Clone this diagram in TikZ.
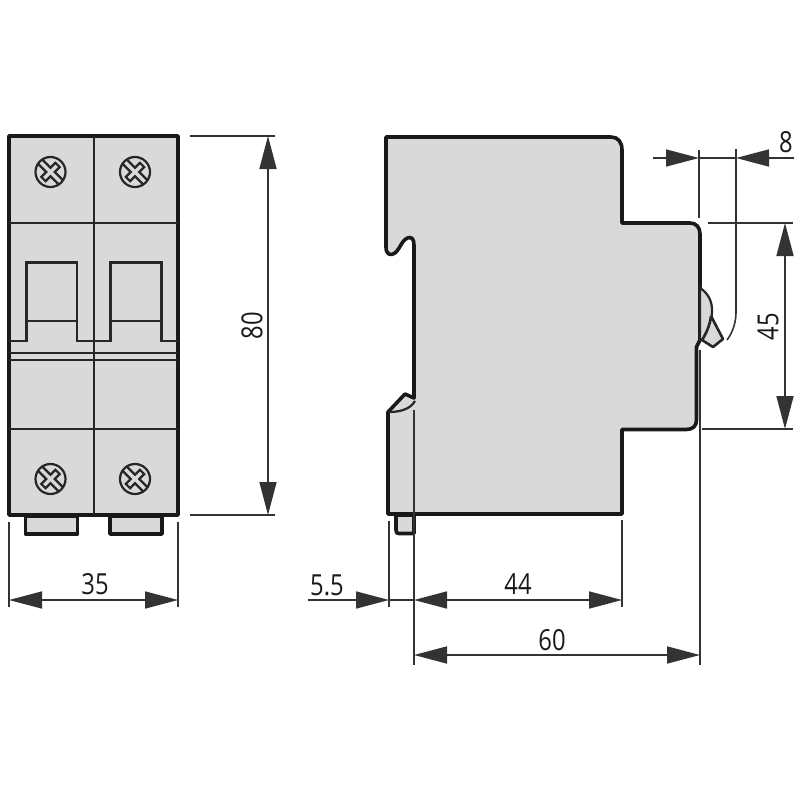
\documentclass[tikz,border=0pt]{standalone}
\usepackage{fontspec}
\setmainfont[FakeStretch=0.82]{Open Sans}
\usetikzlibrary{arrows.meta}

\definecolor{casegray}{HTML}{D9D9D9}
\tikzset{
  outline/.style={draw=black!90,line width=3.6pt,line join=round},
  inner/.style={draw=black!85,line width=2.2pt},
  thin/.style={draw=black!80,line width=1.6pt},
  dim/.style={thin,{Triangle[length=33pt,width=17pt]}-{Triangle[length=33pt,width=17pt]}},
  tipin/.style={thin,-{Triangle[length=33pt,width=17pt]}},
  measure/.style={font=\fontsize{29}{29}\selectfont,color=black!90,inner sep=0pt},
}

\begin{document}
\begin{tikzpicture}[x=1pt,y=-1pt]
  \useasboundingbox (0,0) rectangle (800,800);

  % front view
  \draw[outline,fill=casegray] (25.5,516) -- (25.5,534) -- (77.5,534) -- (77.5,516) -- cycle;
  \draw[outline,fill=casegray] (110,516) -- (110,534) -- (162,534) -- (162,516) -- cycle;
  \draw[outline,fill=casegray] (9,136) rectangle (178,515);
  \draw[inner] (94,136) -- (94,515);
  \draw[inner] (9,223) -- (178,223);
  \draw[inner] (9,353) -- (178,353);
  \draw[inner] (9,360) -- (178,360);
  \draw[inner] (9,429) -- (178,429);
  \draw[inner] (9,341) -- (26.5,341) -- (26.5,262.5) -- (77,262.5) -- (77,341)
    -- (110.5,341) -- (110.5,262.5) -- (161.5,262.5) -- (161.5,341) -- (178,341);
  \draw[inner] (26.5,321) -- (77,321);
  \draw[inner] (110.5,321) -- (161.5,321);

  \foreach \sx in {50.5,135}
    \foreach \sy in {172,479} {
      \begin{scope}[shift={(\sx,\sy)},rotate=-45]
        \draw[inner] (0,0) circle (15);
        \draw[inner] (-15,-3) -- (-3,-3) -- (-3,-10) -- (3,-10) -- (3,-3) -- (15,-3);
        \draw[inner] (-15,3) -- (-3,3) -- (-3,10) -- (3,10) -- (3,3) -- (15,3);
      \end{scope}
    }

  % side view
  \draw[outline,fill=casegray] (396,515) -- (396,530) .. controls (396,533) and (397,533.5) .. (399,533.5)
    -- (414,533.5) -- (414,515) -- cycle;
  \draw[outline,fill=casegray] (386,137) -- (386,247)
    .. controls (386,255) and (391,256) .. (395,253)
    .. controls (401,248) and (402,238) .. (410,237.5)
    .. controls (414,238) and (414,243) .. (414,248)
    -- (414,398) -- (405,394) -- (388,412) -- (388,514) -- (622,514) -- (622,429.5)
    -- (686,429.5) .. controls (693,429.5) and (696.5,426) .. (696.5,420)
    -- (696.5,347) -- (700,340) -- (700,234)
    .. controls (700,227) and (696,223) .. (690,223)
    -- (622,223) -- (622,150)
    .. controls (622,142) and (618,137) .. (611,137) -- cycle;
  \draw[inner,fill=casegray] (700,288) .. controls (708,293) and (712,301) .. (712,310)
    .. controls (712,322) and (708,332) .. (702,340) -- (700,340) -- cycle;
  \draw[inner,line width=2.6pt,fill=casegray,line join=round] (711,316) -- (723,339) -- (713,347) -- (702,340)
    .. controls (706,334) and (710,325) .. (711,316);
  \draw[inner] (389,412) .. controls (398,412) and (410,410) .. (415,401);

  % dimensions
  \draw[thin] (9,522) -- (9,607);
  \draw[thin] (178,522) -- (178,607);
  \draw[dim] (9,600) -- (178,600);
  \node[measure] (widthlabel) at (95,584) {35};

  \draw[thin] (190,136) -- (275,136);
  \draw[thin] (190,515) -- (275,515);
  \draw[dim] (268,136) -- (268,515);
  \node[measure,rotate=90] (heightlabel) at (252,326) {80};

  \draw[thin] (389,521) -- (389,607);
  \draw[thin] (414,410) -- (414,665);
  \draw[thin] (622,520) -- (622,607);
  \draw[thin] (700,350) -- (700,665);
  \draw[tipin] (308,600) -- (389,600);
  \draw[thin] (389,600) -- (414,600);
  \draw[dim] (414,600) -- (622,600);
  \draw[dim] (414,655) -- (700,655);
  \node[measure] (raillabel) at (327,585) {5.5};
  \node[measure] (depthlabel) at (518,584) {44};
  \node[measure] (totallabel) at (552,640) {60};

  \draw[thin] (699,150) -- (699,218);
  \draw[thin] (736,149) -- (736,312) .. controls (736,322) and (733,332) .. (727,340);
  \draw[tipin] (653,158) -- (699,158);
  \draw[thin] (699,158) -- (736,158);
  \draw[tipin] (794,158) -- (736,158);
  \node[measure] (togglelabel) at (786,142) {8};

  \draw[thin] (708,223) -- (793,223);
  \draw[thin] (702,429) -- (793,429);
  \draw[dim] (785,223) -- (785,429);
  \node[measure,rotate=90] (facelabel) at (768,327) {45};
\end{tikzpicture}
\end{document}
